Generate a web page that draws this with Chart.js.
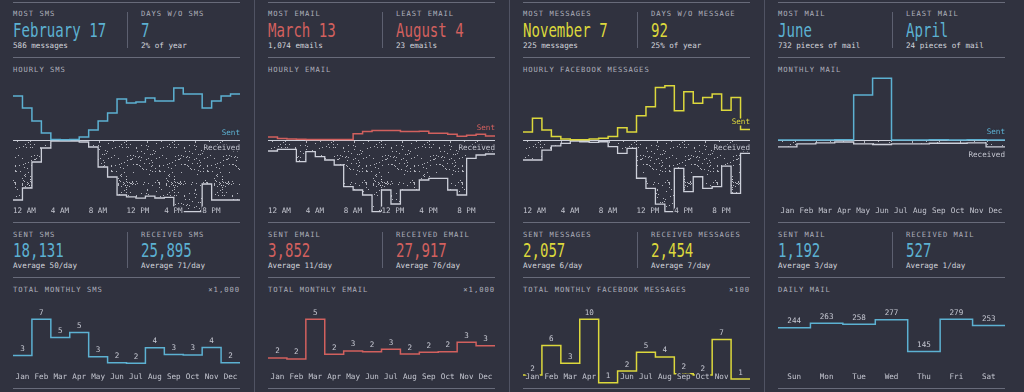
<!DOCTYPE html>
<html>
<head>
<meta charset="utf-8">
<script src="https://cdn.jsdelivr.net/npm/chart.js@4.4.0/dist/chart.umd.min.js"></script>
<style>
html, body { margin: 0; padding: 0; width: 1024px; height: 392px; overflow: hidden; background: #30323f; }
body { position: relative; font-family: "DejaVu Sans Mono", monospace; }
.t { position: absolute; white-space: nowrap; line-height: 10px; height: 10px; }
.cap { font-size: 7.2px; letter-spacing: 0.95px; color: #acaeba; }
.sub { font-size: 7.6px; color: #d2d4dc; }
.big { font-size: 19px; line-height: 22px; height: 22px; transform-origin: 0 50%; transform: scaleX(.74); }
.rule { position: absolute; height: 1px; background: #686b7a; }
.vl { position: absolute; width: 1px; }
canvas { position: absolute; }
</style>
</head>
<body>
<script>
// ---- data ----
const hourTicks = [0, 4, 8, 12, 16, 20];
const hourLabels = ["12 AM", "4 AM", "8 AM", "12 PM", "4 PM", "8 PM"];
const months = ["Jan", "Feb", "Mar", "Apr", "May", "Jun", "Jul", "Aug", "Sep", "Oct", "Nov", "Dec"];
const days = ["Sun", "Mon", "Tue", "Wed", "Thu", "Fri", "Sat"];

const smsSent = [1135, 826, 490, 181, 10, 8, 10, 77, 258, 490, 697, 1058, 955, 980, 1084, 1006, 1006, 1342, 1187, 1187, 826, 1006, 1135, 1187];
const smsReceived = [1548, 1238, 568, 206, 26, 26, 26, 52, 181, 697, 955, 1419, 1470, 1500, 1450, 1496, 1480, 1850, 1850, 1850, 1135, 1548, 1548, 1548];
const emailSent = [105, 54, 32, 22, 16, 16, 16, 16, 16, 212, 285, 317, 317, 317, 285, 285, 295, 231, 231, 190, 127, 158, 190, 136];
const emailReceived = [370, 313, 313, 731, 394, 563, 674, 843, 1574, 1685, 1854, 2416, 1685, 2157, 1685, 1685, 1348, 1291, 1291, 1685, 1854, 617, 506, 472];
const fbSent = [32, 86, 39, 14, 4, 1, 1, 4, 7, 14, 48, 32, 96, 131, 207, 214, 115, 190, 145, 168, 182, 117, 168, 41];
const fbReceived = [79, 79, 40, 23, 13, 4, 7, 9, 7, 26, 53, 33, 151, 191, 253, 283, 112, 204, 145, 191, 184, 103, 211, 53];
const mailSent = [1, 1, 1, 2, 497, 682, 1, 1, 2, 1, 2, 1];
const mailReceived = [75, 42, 32, 22, 42, 50, 42, 42, 36, 36, 32, 75];

const smsMonthly = [3.08, 6.65, 4.84, 5.35, 2.95, 2.36, 2.30, 3.84, 3.17, 3.12, 3.86, 2.36];     // x1,000
const emailMonthly = [2.02, 1.95, 4.76, 2.28, 2.52, 2.46, 2.63, 2.30, 2.42, 2.46, 3.13, 2.89]; // x1,000
const fbMonthly = [1.7, 6.1, 3.45, 10.0, 0.55, 2.3, 5.1, 4.4, 1.9, 1.7, 7.0, 1.1];              // x100
const mailDaily = [244, 263, 258, 277, 145, 279, 253];

// ---- look ----
const BG = "#30323f";
const BLUE = "#5cb1d2";
const RED = "#d2605e";
const YELLOW = "#dcd83c";
const GREY_LINE = "#cdd0da";
const FONT = "7.6px 'DejaVu Sans Mono'";

const panels = [
  { x: 13, color: BLUE,
    top: [["MOST SMS", "February 17", "586 messages"], ["DAYS W/O SMS", "7", "2% of year"]],
    title1: "HOURLY SMS",
    mid: [["SENT SMS", "18,131", "Average 50/day"], ["RECEIVED SMS", "25,895", "Average 71/day"]],
    title2: "TOTAL MONTHLY SMS", unit: "×1,000" },
  { x: 268, color: RED,
    top: [["MOST EMAIL", "March 13", "1,074 emails"], ["LEAST EMAIL", "August 4", "23 emails"]],
    title1: "HOURLY EMAIL",
    mid: [["SENT EMAIL", "3,852", "Average 11/day"], ["RECEIVED EMAIL", "27,917", "Average 76/day"]],
    title2: "TOTAL MONTHLY EMAIL", unit: "×1,000" },
  { x: 523, color: YELLOW,
    top: [["MOST MESSAGES", "November 7", "225 messages"], ["DAYS W/O MESSAGE", "92", "25% of year"]],
    title1: "HOURLY FACEBOOK MESSAGES",
    mid: [["SENT MESSAGES", "2,057", "Average 6/day"], ["RECEIVED MESSAGES", "2,454", "Average 7/day"]],
    title2: "TOTAL MONTHLY FACEBOOK MESSAGES", unit: "×100" },
  { x: 778, color: BLUE,
    top: [["MOST MAIL", "June", "732 pieces of mail"], ["LEAST MAIL", "April", "24 pieces of mail"]],
    title1: "MONTHLY MAIL",
    mid: [["SENT MAIL", "1,192", "Average 3/day"], ["RECEIVED MAIL", "527", "Average 1/day"]],
    title2: "DAILY MAIL", unit: "" },
];

// ---- page text ----
function addText(s, x, y, cls, color, right) {
  const d = document.createElement("div");
  d.className = "t " + cls;
  d.textContent = s;
  const lh = cls === "big" ? 22 : 10;
  d.style.top = (y - lh / 2) + "px";
  if (right) d.style.right = (1024 - x) + "px";
  else d.style.left = x + "px";
  if (color) d.style.color = color;
  document.body.appendChild(d);
}
function rule(x, y, w) {
  const d = document.createElement("div");
  d.className = "rule";
  d.style.left = x + "px"; d.style.top = y + "px"; d.style.width = w + "px";
  document.body.appendChild(d);
}
function vline(x, y, h, color) {
  const d = document.createElement("div");
  d.className = "vl";
  d.style.left = x + "px"; d.style.top = y + "px"; d.style.height = h + "px"; d.style.background = color;
  document.body.appendChild(d);
}

[254, 509, 764].forEach(x => vline(x, 0, 392, "#505363"));

panels.forEach(p => {
  const W = 227;
  [2, 57, 222, 277, 388].forEach(y => rule(p.x, y, W));
  p.top.forEach((c, i) => {
    const cx = p.x + i * 128;
    addText(c[0], cx, 14, "cap");
    addText(c[1], cx, 30, "big", p.color);
    addText(c[2], cx, 46, "sub");
  });
  vline(p.x + 114, 12, 36, "#5d6070");
  addText(p.title1, p.x, 69.5, "cap");
  p.mid.forEach((c, i) => {
    const cx = p.x + i * 128;
    addText(c[0], cx, 234.5, "cap");
    addText(c[1], cx, 250, "big", p.color);
    addText(c[2], cx, 266, "sub");
  });
  vline(p.x + 114, 232, 36, "#5d6070");
  addText(p.title2, p.x, 290, "cap");
  if (p.unit) addText(p.unit, p.x + W, 290, "cap", null, true);
});

// ---- dotted fill ----
function dotPattern() {
  const c = document.createElement("canvas");
  c.width = c.height = 48;
  const g = c.getContext("2d");
  g.fillStyle = "rgba(222,224,232,0.75)";
  let s = 12345;
  const next = () => (s = (s * 16807) % 2147483647);
  for (let i = 0; i < 125; i++) g.fillRect(next() % 48, next() % 48, 1, 1);
  return g.createPattern(c, "repeat");
}
const dots = dotPattern();

function halo(ctx, s, x, y) {
  ctx.save();
  ctx.strokeStyle = BG; ctx.lineWidth = 3; ctx.lineJoin = "round";
  ctx.strokeText(s, x, y);
  ctx.restore();
  ctx.fillText(s, x, y);
}

const stepPoints = (vals, sign) =>
  vals.map((v, i) => ({ x: i, y: sign * v })).concat([{ x: vals.length, y: sign * vals[vals.length - 1] }]);

// ---- sent / received flow charts ----
const flowPlugin = {
  id: "flow",
  beforeDatasetsDraw(chart) {
    const { ctx, chartArea: a, scales: { y } } = chart;
    const y0 = Math.round(y.getPixelForValue(0)) + 0.5;
    ctx.save();
    ctx.strokeStyle = GREY_LINE; ctx.lineWidth = 1;
    ctx.beginPath(); ctx.moveTo(a.left, y0); ctx.lineTo(a.right, y0); ctx.stroke();
    ctx.restore();
  },
  afterDatasetsDraw(chart, args, o) {
    const { ctx, chartArea: a, scales: { x, y } } = chart;
    ctx.save();
    ctx.font = FONT; ctx.textBaseline = "middle";
    ctx.fillStyle = "#c3c5cf"; ctx.textAlign = o.align;
    o.ticks.forEach((v, i) => halo(ctx, o.labels[i], x.getPixelForValue(v), a.bottom - 1));
    const y0 = y.getPixelForValue(0);
    const ySentLast = y.getPixelForValue(o.lastSent);
    const ySent = y0 - ySentLast < 15 ? ySentLast - 8 : y0 - 7;
    const yRecvLast = y.getPixelForValue(-o.lastRecv);
    const yRecv = yRecvLast - y0 < 12 ? yRecvLast + 8 : y0 + 8.3;
    ctx.textAlign = "right";
    ctx.fillStyle = o.color;
    halo(ctx, "Sent", a.right, ySent);
    ctx.fillStyle = "#c3c5cf";
    halo(ctx, "Received", a.right, yRecv);
    ctx.restore();
  }
};

function flowChart(x0, sent, received, color, ticks, labels, align, peakPx) {
  const cv = document.createElement("canvas");
  cv.width = 227; cv.height = 144;
  cv.style.left = x0 + "px"; cv.style.top = "76px";
  document.body.appendChild(cv);
  const ppu = peakPx / Math.max(...sent, ...received);
  new Chart(cv, {
    type: "line",
    data: {
      datasets: [
        { data: stepPoints(sent, 1), borderColor: color, borderWidth: 1.5, stepped: "before",
          fill: false, pointRadius: 0, clip: false },
        { data: stepPoints(received, -1), borderColor: GREY_LINE, borderWidth: 1.3, stepped: "before",
          fill: "origin", backgroundColor: dots, pointRadius: 0, clip: false },
      ],
    },
    options: {
      responsive: false, animation: false, events: [],
      layout: { padding: { top: 0, bottom: 8, left: 0, right: 0 } },
      scales: {
        x: { type: "linear", display: false, min: 0, max: sent.length },
        y: { display: false, min: -72 / ppu, max: 64 / ppu },
      },
      plugins: {
        legend: { display: false }, tooltip: { enabled: false },
        flow: { ticks, labels, align, color, lastSent: sent[sent.length - 1], lastRecv: received[received.length - 1] },
      },
    },
    plugins: [flowPlugin],
  });
}

// ---- totals (monthly / daily) ----
const totalsPlugin = {
  id: "totals",
  afterDatasetsDraw(chart, args, o) {
    const { ctx, chartArea: a, scales: { x, y } } = chart;
    const rowY = a.top + 80.7;
    ctx.save();
    ctx.font = FONT; ctx.textBaseline = "middle"; ctx.textAlign = "center";
    o.values.forEach((v, i) => {
      const cx = x.getPixelForValue(i + 0.5);
      const vy = y.getPixelForValue(v) - 6.5;
      ctx.fillStyle = "#c5c7d1";
      ctx.fillText(String(Math.round(v)), cx, vy);
      if (vy < rowY - 7.5) halo(ctx, o.cats[i], cx, rowY);
    });
    ctx.restore();
  }
};

function totalsChart(x0, values, cats, color) {
  const cv = document.createElement("canvas");
  cv.width = 227; cv.height = 92;
  cv.style.left = x0 + "px"; cv.style.top = "296px";
  document.body.appendChild(cv);
  const ppu = 67.2 / Math.max(...values);
  new Chart(cv, {
    type: "line",
    data: {
      datasets: [{ data: stepPoints(values, 1), borderColor: color, borderWidth: 1.5, stepped: "before",
        fill: false, pointRadius: 0, clip: false }],
    },
    options: {
      responsive: false, animation: false, events: [],
      layout: { padding: 0 },
      scales: {
        x: { type: "linear", display: false, min: 0, max: values.length },
        y: { display: false, min: -1.5 / ppu, max: 90.5 / ppu },
      },
      plugins: { legend: { display: false }, tooltip: { enabled: false }, totals: { values, cats } },
    },
    plugins: [totalsPlugin],
  });
}

const monthCenters = months.map((m, i) => i + 0.5);

flowChart(13, smsSent, smsReceived, BLUE, hourTicks, hourLabels, "left", 71.7);
flowChart(268, emailSent, emailReceived, RED, hourTicks, hourLabels, "left", 71.7);
flowChart(523, fbSent, fbReceived, YELLOW, hourTicks, hourLabels, "left", 71.7);
flowChart(778, mailSent, mailReceived, BLUE, monthCenters, months, "center", 61.7);

totalsChart(13, smsMonthly, months, BLUE);
totalsChart(268, emailMonthly, months, RED);
totalsChart(523, fbMonthly, months, YELLOW);
totalsChart(778, mailDaily, days, BLUE);
</script>
</body>
</html>
